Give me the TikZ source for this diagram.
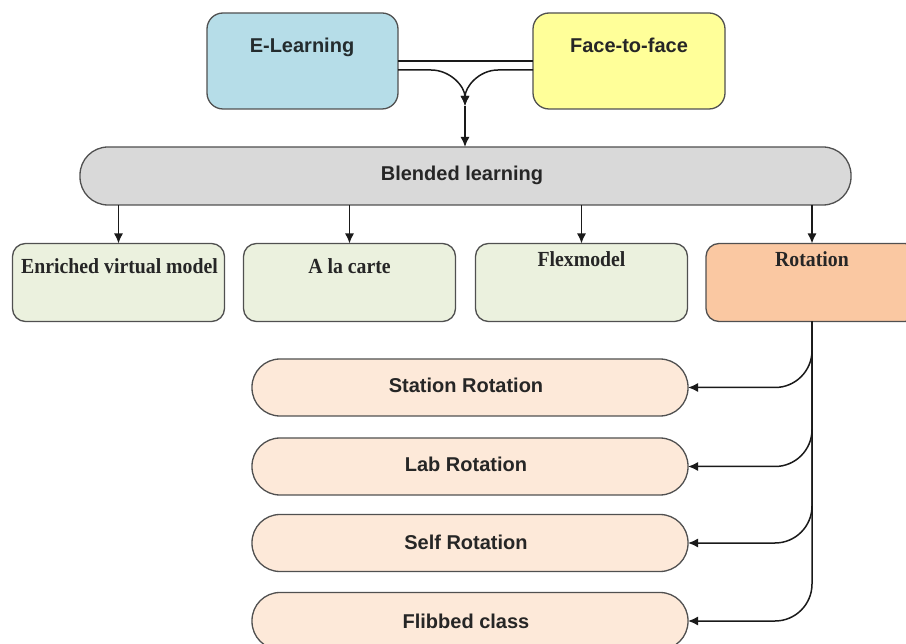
\documentclass[tikz,border=0pt]{standalone}
\usepackage{fontspec}
\setmainfont{Liberation Sans}
\newfontfamily\serifb{Liberation Serif}
\usetikzlibrary{arrows.meta}
\definecolor{elblue}{HTML}{B6DDE8}
\definecolor{ffyellow}{HTML}{FFFF99}
\definecolor{blgray}{HTML}{D9D9D9}
\definecolor{modgreen}{HTML}{EBF1DE}
\definecolor{rotpeach}{HTML}{FAC8A2}
\definecolor{subpeach}{HTML}{FDE9D9}
\definecolor{bord}{HTML}{505050}
\definecolor{txt}{HTML}{262626}
\definecolor{wire}{HTML}{1A1A1A}
\begin{document}
\begin{tikzpicture}[x=1pt,y=-1pt,
  box/.style={draw=bord, line width=1.3pt, inner sep=0pt, outer sep=0pt},
  topbox/.style={box, rounded corners=16pt, minimum height=96pt},
  modbox/.style={box, fill=modgreen, rounded corners=13pt, minimum width=212pt, minimum height=78pt},
  pill/.style={box, fill=subpeach, rounded corners=28pt, minimum width=436pt, minimum height=57pt},
  sanslbl/.style={anchor=base, text=txt, inner sep=0pt, font=\fontsize{20}{24}\selectfont\bfseries},
  seriflbl/.style={anchor=base, text=txt, inner sep=0pt, font=\fontsize{21.5}{24}\selectfont\serifb\bfseries},
  wireline/.style={draw=wire, line width=1.5pt},
  arr/.style={wireline, -{Latex[length=10pt,width=9pt]}}
]
\useasboundingbox (0,0) rectangle (906,644);
\clip (0,0) rectangle (906,644);

% top boxes
\node[topbox, fill=elblue, minimum width=191pt] (el) at (302.5,61) {};
\node[topbox, fill=ffyellow, minimum width=192pt] (fl) at (629,61) {};
\node[sanslbl, text=black!80!elblue] (elt) at (302,53) {E-Learning};
\node[sanslbl] (flt) at (629,53) {Face-to-face};

% blended
\node[box, fill=blgray, rounded corners=28pt, minimum width=771pt, minimum height=58pt] (bl) at (465.5,176) {};
\node[sanslbl] (blt) at (462,181) {Blended learning};

% models
\node[modbox] (ev) at (118.5,282.5) {};
\node[modbox] (ac) at (349.5,282.5) {};
\node[modbox] (fx) at (581.5,282.5) {};
\node[modbox, fill=rotpeach] (rot) at (812,282.5) {};
\node[seriflbl] (evt) at (119.5,274) {\scalebox{0.92}[1]{Enriched virtual model}};
\node[seriflbl] (act) at (349.5,274) {\scalebox{0.92}[1]{A la carte}};
\node[seriflbl] (fxt) at (581.5,267) {\scalebox{0.92}[1]{Flexmodel}};
\node[seriflbl] (rott) at (812,267) {\scalebox{0.92}[1]{Rotation}};

% rotation types
\node[pill] (s1) at (470,387.5) {};
\node[pill] (s2) at (470,466.5) {};
\node[pill] (s3) at (470,543) {};
\node[pill] (s4) at (470,621) {};
\node[sanslbl] (s1t) at (466,393) {Station Rotation};
\node[sanslbl] (s2t) at (466,472) {Lab Rotation};
\node[sanslbl] (s3t) at (466,550) {Self Rotation};
\node[sanslbl] (s4t) at (466,628) {Flibbed class};

% connectors at top
\coordinate (m) at (465,106);
\draw[wireline] (el.east) -- (fl.west);
\draw[arr] ([yshift=-9pt]el.east) -- ++(33,0) to[out=0,in=90] (m);
\draw[arr] ([yshift=-9pt]fl.west) -- ++(-35,0) to[out=180,in=90] (m);
\draw[arr] (m) -- (m |- bl.north);

% blended to models
\draw[arr] (bl.south -| ev.north) -- (ev.north);
\draw[arr] (bl.south -| ac.north) -- (ac.north);
\draw[arr] (bl.south -| fx.north) -- (fx.north);
\draw[arr] (bl.south -| rot.north) -- (rot.north);

% rotation branches
\draw[arr, rounded corners=37pt] (rot.south) |- (s1.east);
\draw[arr, rounded corners=37pt] (rot.south) |- (s2.east);
\draw[arr, rounded corners=37pt] (rot.south) |- (s3.east);
\draw[arr, rounded corners=37pt] (rot.south) |- (s4.east);
\end{tikzpicture}
\end{document}
